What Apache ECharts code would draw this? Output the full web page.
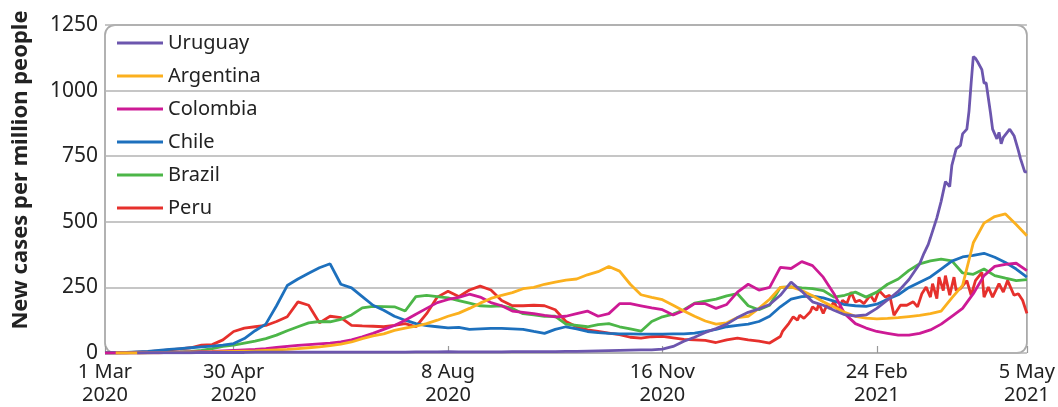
<!DOCTYPE html>
<html>
<head>
<meta charset="utf-8">
<script src="https://cdn.jsdelivr.net/npm/echarts@6/dist/echarts.min.js"></script>
<style>
html,body{margin:0;padding:0;background:#fff;}
#c{width:1058px;height:407px;}
</style>
</head>
<body>
<div id="c"></div>
<script>
// Days since 1 Mar 2020, sampled every 5 days (0 .. 430 = 5 May 2021)
const days = [0,5,10,15,20,25,30,35,40,45,50,55,60,65,70,75,80,85,90,95,100,105,110,115,120,125,130,135,140,145,150,155,160,165,170,175,180,185,190,195,200,205,210,215,220,225,230,235,240,245,250,255,260,265,270,275,280,285,290,295,300,305,310,315,320,325,330,335,340,345,350,355,360,365,370,375,380,385,390,395,400,405,410,415,420,425,430];

const tickDays = [0,60,160,260,360,430];
const tickLabels = ['1 Mar\n2020','30 Apr\n2020','8 Aug\n2020','16 Nov\n2020','24 Feb\n2021','5 May\n2021'];

const countries = ['Uruguay','Argentina','Colombia','Chile','Brazil','Peru'];

// coarse values (one per entry of `days`; null = no point)
const uruguay = [null,null,null,0,1,1,1,1,1,2,2,2,2,2,3,3,3,3,3,3,3,3,3,3,3,3,3,3,3,4,4,4,5,4,4,4,4,4,5,5,5,5,5,6,6,7,8,9,10,11,12,12,15,25,45,60,78,93,110,135,155,168,185,220,270,235,195,182,163,146,141,145,170,202,235,280,340,null,null,null,null,null,null,null,null,null,null];
const argentina = [null,0,0,0,1,1,2,2,3,3,4,5,6,7,8,10,12,14,17,20,23,28,34,42,55,65,73,86,95,102,112,125,140,152,170,190,208,220,230,245,250,262,270,278,282,298,310,330,312,262,222,212,203,182,160,140,122,110,115,135,140,170,205,250,252,238,218,195,175,155,140,133,130,132,135,139,143,150,160,210,258,420,495,520,530,490,447];
const colombia = [0,0,0,0,1,1,2,3,4,5,6,8,10,12,14,17,21,25,29,32,35,38,42,50,62,75,90,105,125,148,170,192,204,212,224,213,192,180,160,155,150,143,138,140,150,160,140,150,188,188,180,172,165,145,162,188,188,170,185,232,262,240,250,326,322,348,333,289,226,150,112,95,82,75,68,68,75,88,110,140,170,226,295,330,338,342,314];
const chile = [0,1,2,4,6,10,14,17,20,23,26,30,36,55,85,110,180,257,282,304,325,340,262,248,215,182,163,140,125,112,104,100,96,98,90,92,94,94,92,90,82,75,90,100,92,82,78,75,73,73,72,72,72,73,73,76,82,90,100,105,110,120,140,176,205,215,217,210,198,184,180,178,186,205,222,250,270,290,320,350,366,372,380,365,345,320,289];
const brazil = [0,0,0,1,1,2,3,4,6,10,17,25,30,38,45,55,68,85,100,115,120,119,128,145,172,178,177,176,160,215,220,215,210,200,190,180,178,180,170,150,145,140,140,110,105,100,108,112,100,92,83,120,138,148,165,190,198,205,218,226,180,165,182,250,252,248,245,238,213,220,232,213,232,262,282,315,340,351,358,351,305,300,320,295,285,276,280];
const peru = [0,0,1,3,5,8,12,16,20,30,32,50,82,95,100,105,120,138,195,182,115,140,135,105,103,102,100,105,112,100,150,213,235,215,240,255,240,200,180,180,182,180,165,120,100,88,82,76,70,60,57,62,63,58,52,50,48,40,50,57,50,45,38,null,null,null,null,null,null,null,null,null,null,null,null,null,null,null,null,null,null,null,null,null,null,null,null,null,null];

// finer readings where the lines are jagged
const uruguayTailDays = [380,382,384,385,388,390,392,394,395,397,399,400,402,403,404,405,406,407,409,410,411,413,414,416,417,418,419,422,424,426,427,429,430];
const uruguayTail = [340,380,414,439,515,578,653,634,715,778,791,835,853,922,1029,1130,1123,1110,1080,1029,1029,916,853,816,841,797,822,853,828,772,741,690,690];
const peruTailDays = [310,315,316,319,321,323,324,326,329,330,332,333,335,337,338,340,342,344,346,348,350,352,354,357,359,361,364,366,368,371,374,377,379,381,383,385,386,388,389,391,392,394,396,397,399,402,404,406,409,410,412,414,417,419,421,424,426,428,430];
const peruTail = [38,63,82,113,138,125,144,132,157,176,163,188,151,188,169,195,163,201,188,232,195,201,188,220,195,238,213,220,144,182,182,195,176,226,251,213,264,207,289,238,295,220,289,238,245,276,220,276,307,213,251,213,264,232,276,220,226,201,151];

const colors = {
  Uruguay:'#6c56ae', Argentina:'#fbb01e', Colombia:'#cd1a95',
  Chile:'#1d70bd', Brazil:'#4cb648', Peru:'#e6302c'
};

const FONT = '"Noto Sans", "Open Sans", sans-serif';

function pairs(xs, arr){
  const out = [];
  for (let i=0;i<xs.length;i++){ if (arr[i] !== null && arr[i] !== undefined) out.push([xs[i], arr[i]]); }
  return out;
}
const seriesData = {
  Uruguay: pairs(days, uruguay).concat(pairs(uruguayTailDays, uruguayTail).slice(1)),
  Argentina: pairs(days, argentina),
  Colombia: pairs(days, colombia),
  Chile: pairs(days, chile),
  Brazil: pairs(days, brazil),
  Peru: pairs(days, peru).concat(pairs(peruTailDays, peruTail).slice(1))
};

// draw Uruguay last so it sits on top
const drawOrder = ['Peru','Brazil','Chile','Colombia','Argentina','Uruguay'];
const series = drawOrder.map(name => ({
  name, type:'line', data: seriesData[name],
  showSymbol:false, symbol:'none', smooth:false,
  lineStyle:{color:colors[name], width:2.8},
  itemStyle:{color:colors[name]},
  emphasis:{disabled:true}, animation:false
}));

const chart = echarts.init(document.getElementById('c'), null, {renderer:'canvas'});
chart.setOption({
  animation:false,
  backgroundColor:'#fff',
  grid:{left:105, right:30, top:25, bottom:50, containLabel:false},
  legend:{
    data:countries.map(n => ({name:n, icon:'rect', itemStyle:{color:colors[n]}})),
    orient:'vertical', left:117, top:33, padding:0,
    itemWidth:46, itemHeight:3, itemGap:13,
    textStyle:{fontFamily:FONT, fontSize:20, color:'#222', lineHeight:20},
    selectedMode:false
  },
  xAxis:{
    type:'value', min:0, max:430,
    axisLine:{show:false},
    splitLine:{show:false},
    axisTick:{show:true, inside:true, length:7, customValues:tickDays, lineStyle:{color:'#999', width:1.2}},
    axisLabel:{
      customValues:tickDays, margin:8,
      fontFamily:FONT, fontSize:20, color:'#222', lineHeight:23,
      formatter:(v)=>{ const i = tickDays.indexOf(v); return i>=0 ? tickLabels[i] : ''; }
    }
  },
  yAxis:{
    type:'value', min:0, max:1250, interval:250,
    name:'New cases per million people', nameLocation:'middle', nameGap:73,
    nameTextStyle:{fontFamily:FONT, fontSize:22, fontWeight:'bold', color:'#222', padding:[0,0,0,38]},
    axisLine:{show:false}, axisTick:{show:false},
    axisLabel:{fontFamily:FONT, fontSize:21, color:'#222', margin:7, formatter:(v)=>String(v)},
    splitLine:{lineStyle:{color:'#b3b3b3', width:1.5}}
  },
  series
});

// rounded frame around the plot area
const p0 = chart.convertToPixel({xAxisIndex:0, yAxisIndex:0}, [0, 1250]);
const p1 = chart.convertToPixel({xAxisIndex:0, yAxisIndex:0}, [430, 0]);
chart.setOption({
  graphic:[{
    type:'rect', z:-1, silent:true,
    shape:{x:p0[0], y:p0[1], width:p1[0]-p0[0], height:p1[1]-p0[1], r:10},
    style:{fill:'none', stroke:'#aaaaaa', lineWidth:1.8}
  }]
});
</script>
</body>
</html>
